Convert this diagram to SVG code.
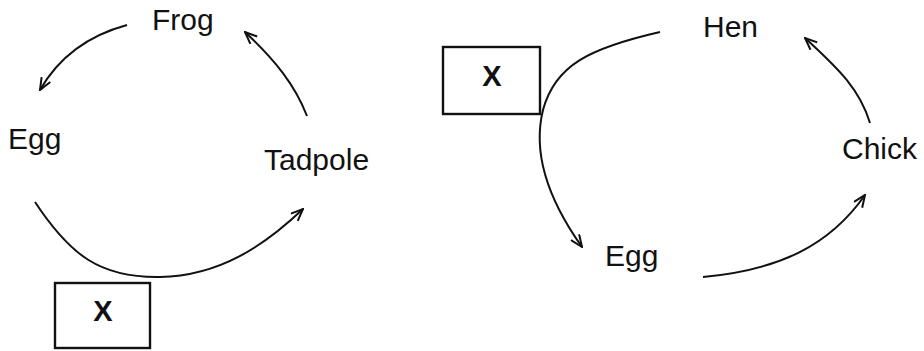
<svg xmlns="http://www.w3.org/2000/svg" width="924" height="351" viewBox="0 0 924 351">
<defs>
<style>
.lbl{font-family:"Liberation Sans",Arial,sans-serif;font-size:30px;fill:#111}
.x{font-family:"Liberation Sans",Arial,sans-serif;font-size:29px;font-weight:bold;fill:#111;text-anchor:middle}
.box{fill:none;stroke:#111;stroke-width:2.4}
.c{fill:none;stroke:#111;stroke-width:2;marker-end:url(#ah)}
</style>
<marker id="ah" viewBox="0 0 14 12" refX="13" refY="6" markerWidth="14" markerHeight="12" markerUnits="userSpaceOnUse" orient="auto">
<path d="M1,1 L13,6 L1,11" fill="none" stroke="#111" stroke-width="2"/>
</marker>
</defs>
<rect width="924" height="351" fill="#fff"/>
<g id="frog"><text class="lbl" x="152" y="30">Frog</text></g>
<g id="egg1"><text class="lbl" x="8" y="149">Egg</text></g>
<g id="tadpole"><text class="lbl" x="264" y="170">Tadpole</text></g>
<g id="x1"><rect class="box" x="55" y="283" width="95" height="65"/><text class="x" x="103" y="321">X</text></g>
<g id="hen"><text class="lbl" x="703" y="37">Hen</text></g>
<g id="chick"><text class="lbl" x="842" y="159">Chick</text></g>
<g id="egg2"><text class="lbl" x="605" y="266">Egg</text></g>
<g id="x2"><rect class="box" x="443" y="47" width="97" height="67"/><text class="x" x="492" y="86">X</text></g>
<g id="connectors">
<path class="c" d="M127,25 C90,35 60,55 40,90"/>
<path class="c" d="M307,116 C295,85 275,60 245,32"/>
<path class="c" d="M35,202 C70,255 100,278 160,277 C220,276 265,245 303,209"/>
<path class="c" d="M660,32 C590,48 555,65 543,110 C533,150 545,195 582,247"/>
<path class="c" d="M703,277 C780,270 830,245 865,195"/>
<path class="c" d="M870,123 C860,90 840,70 805,38"/>
</g>
</svg>
